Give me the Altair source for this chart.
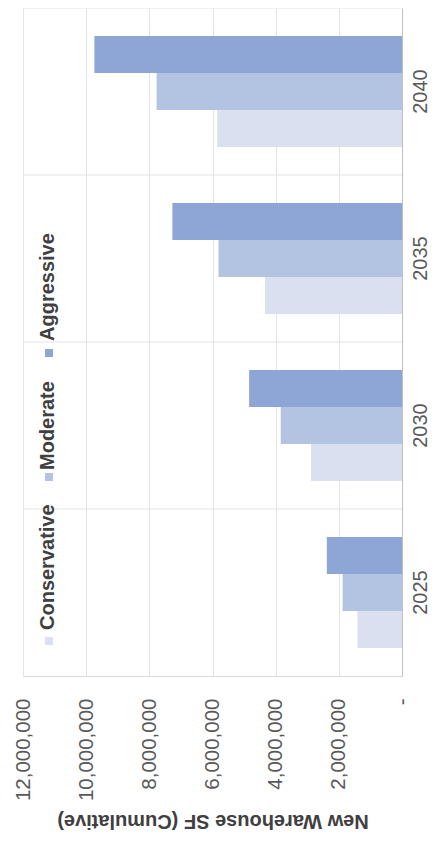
import altair as alt
import pandas as pd

years = ["2025", "2030", "2035", "2040"]
scenarios = ["Conservative", "Moderate", "Aggressive"]
conservative = [1_410_000, 2_880_000, 4_340_000, 5_850_000]
moderate = [1_880_000, 3_840_000, 5_810_000, 7_770_000]
aggressive = [2_380_000, 4_840_000, 7_270_000, 9_740_000]
colors = ["#DAE0EF", "#B3C4E3", "#8EA6D6"]
value_ticks = [0, 2_000_000, 4_000_000, 6_000_000, 8_000_000, 10_000_000, 12_000_000]

rows = []
for i, y in enumerate(years):
    rows.append({"year": y, "scenario": "Conservative", "value": conservative[i]})
    rows.append({"year": y, "scenario": "Moderate", "value": moderate[i]})
    rows.append({"year": y, "scenario": "Aggressive", "value": aggressive[i]})
df = pd.DataFrame(rows)
years_df = pd.DataFrame({"year": years})
legend_df = pd.DataFrame({"scenario": scenarios})

FONT = "Liberation Sans"
year_order = years[::-1]

y_axis = alt.Axis(
    orient="right", title=None, grid=False, ticks=False, tickSize=0,
    labelAngle=270, labelAlign="center", labelBaseline="middle",
    labelPadding=18, labelFontSize=20, labelColor="#595959", labelFont=FONT,
    domainColor="#bfbfbf", domainWidth=1,
)
y_scale = alt.Scale(type="band", domain=year_order, paddingInner=0, paddingOuter=0)
color_scale = alt.Scale(domain=scenarios, range=colors)

bars = alt.Chart(df).mark_bar().encode(
    x=alt.X(
        "value:Q",
        scale=alt.Scale(domain=[0, 12_000_000], reverse=True, nice=False),
        axis=alt.Axis(
            values=value_ticks,
            labelExpr="datum.value == 0 ? '-\u00a0\u00a0' : format(datum.value, ',')",
            labelAngle=270, labelAlign="right", labelBaseline="middle",
            ticks=False, tickSize=0, labelPadding=22,
            labelFontSize=20.5, labelColor="#595959", labelFont=FONT,
            gridColor="#e3e3e3", domainColor="#d9d9d9",
            title="New Warehouse SF (Cumulative)", titleAngle=180,
            titleBaseline="bottom", titleFontSize=20, titleFontWeight="bold",
            titleColor="#404040", titleFont=FONT, titlePadding=10,
        ),
    ),
    y=alt.Y("year:N", sort=year_order, scale=y_scale, axis=y_axis),
    yOffset=alt.YOffset(
        "scenario:N", sort=scenarios[::-1],
        scale=alt.Scale(paddingInner=0, paddingOuter=0.76),
    ),
    color=alt.Color("scenario:N", scale=color_scale, legend=None),
)

rules = alt.Chart(years_df).mark_rule(color="#e3e3e3", strokeWidth=1).encode(
    y=alt.Y("year:N", sort=year_order, scale=y_scale, axis=y_axis, bandPosition=0),
)

# legend layout (square y, text start y) in plot pixels
legend_pos = {"Conservative": (633, 622), "Moderate": (469, 462), "Aggressive": (345, 333)}
legend_layers = []
for s in scenarios:
    sq_y, tx_y = legend_pos[s]
    base = alt.Chart(legend_df).transform_filter(alt.datum.scenario == s)
    legend_layers.append(
        base.mark_square(size=64, opacity=1).encode(
            x=alt.value(26), y=alt.value(sq_y),
            color=alt.Color("scenario:N", scale=color_scale, legend=None),
        )
    )
    legend_layers.append(
        base.mark_text(
            angle=270, align="left", baseline="middle",
            fontSize=20, fontWeight="bold", color="#404040", font=FONT,
        ).encode(x=alt.value(25), y=alt.value(tx_y), text="scenario:N")
    )

chart = alt.layer(rules, bars, *legend_layers).properties(
    width=379, height=668,
    autosize=alt.AutoSizeParams(type="none"),
    padding={"left": 15, "top": 0, "right": 28, "bottom": 158},
    background="white",
).configure_view(stroke=None)

chart.save("out.html", embed_options={"renderer": "svg", "actions": False})
